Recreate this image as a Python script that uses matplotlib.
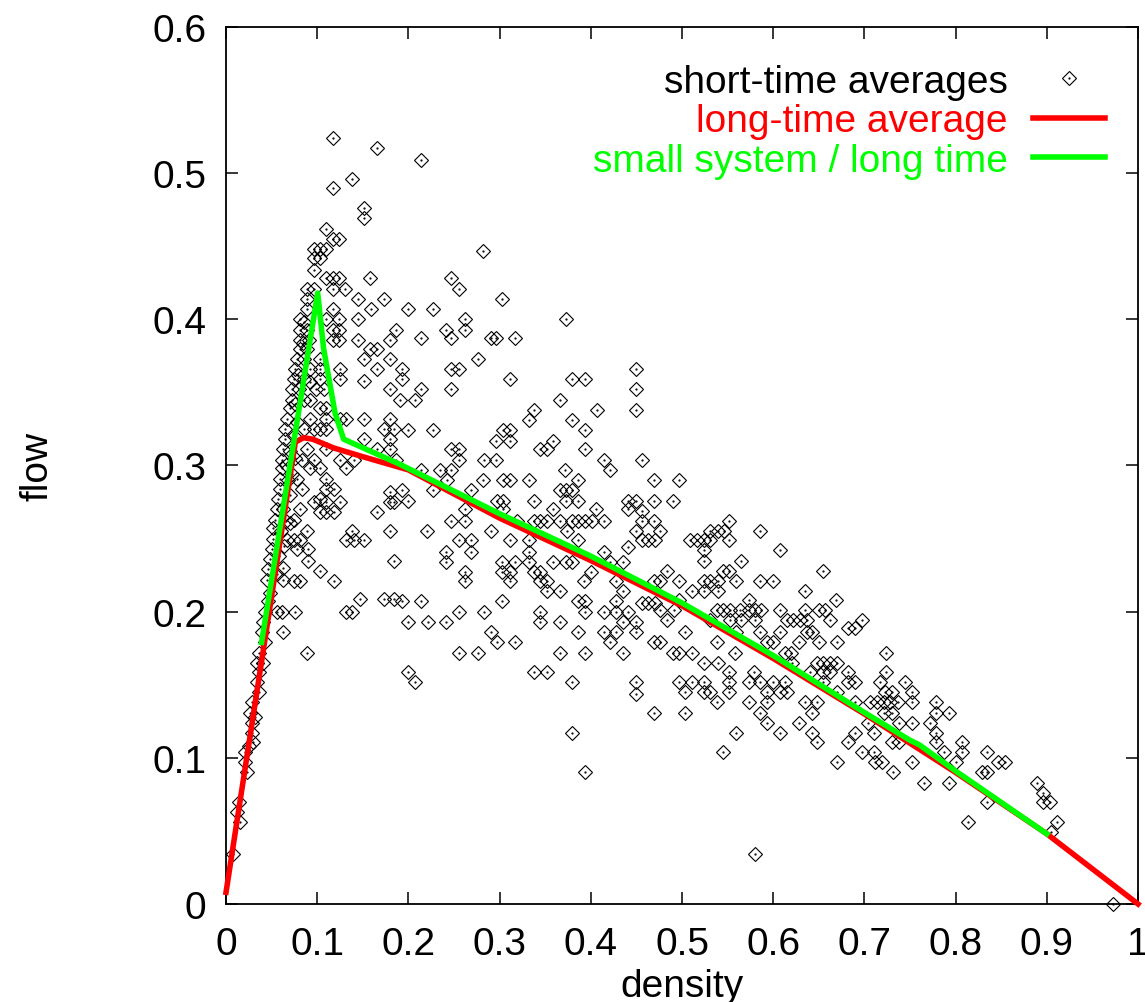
import matplotlib
matplotlib.use("Agg")
import matplotlib.pyplot as plt
from matplotlib.lines import Line2D
from matplotlib.legend_handler import HandlerTuple

plt.rcParams["font.family"] = ["Liberation Sans", "DejaVu Sans"]

# short-time averages (density, flow)
short_density = [
    0.117, 0.165, 0.138, 0.117, 0.151, 0.151, 0.110, 0.117, 0.124, 0.214,
    0.096, 0.103, 0.110, 0.096, 0.103, 0.096, 0.110, 0.117, 0.124, 0.158,
    0.089, 0.096, 0.117, 0.131, 0.089, 0.145, 0.173, 0.089, 0.117, 0.159,
    0.081, 0.110, 0.124, 0.145, 0.186, 0.081, 0.089, 0.117, 0.124,
    0.081, 0.091, 0.117, 0.124, 0.145, 0.180, 0.158, 0.165, 0.081, 0.089,
    # rising edge
    0.078, 0.076, 0.074, 0.072, 0.072, 0.070, 0.067, 0.065, 0.065, 0.063, 0.061, 0.061,
    0.059, 0.059, 0.057, 0.056, 0.054, 0.052, 0.052, 0.050, 0.048, 0.046, 0.045,
    0.066, 0.068, 0.070, 0.063, 0.066, 0.060, 0.064, 0.058, 0.062, 0.056,
    0.070, 0.074, 0.078, 0.076, 0.080, 0.079, 0.084, 0.086, 0.076, 0.072,
    0.085, 0.092, 0.085, 0.092, 0.103, 0.103, 0.103, 0.099, 0.107, 0.092, 0.085,
    0.103, 0.110, 0.110, 0.092, 0.085, 0.096, 0.103, 0.110, 0.125, 0.125,
    0.151, 0.165, 0.180, 0.151, 0.180, 0.191, 0.125, 0.132, 0.151, 0.180,
    0.173, 0.184, 0.180, 0.151, 0.165, 0.180, 0.089, 0.083, 0.096, 0.110,
    0.125, 0.132, 0.140, 0.103, 0.092, 0.078, 0.083, 0.110, 0.110, 0.118,
    0.103, 0.096, 0.110, 0.125, 0.103, 0.110, 0.118, 0.081, 0.074, 0.070,
    0.165, 0.180, 0.180, 0.184, 0.089, 0.138, 0.132, 0.140, 0.151, 0.180,
    0.067, 0.074, 0.081, 0.078, 0.090, 0.090, 0.103, 0.118, 0.074, 0.081,
    0.063, 0.184, 0.147, 0.173, 0.184,
    0.048, 0.046, 0.043, 0.041, 0.039, 0.043, 0.036, 0.034, 0.036, 0.034, 0.028,
    0.026, 0.028, 0.028, 0.030, 0.021, 0.021, 0.023, 0.014, 0.012, 0.015, 0.008,
    0.056, 0.061, 0.076, 0.063, 0.089, 0.132, 0.138, 0.040, 0.036, 0.032, 0.025,
    # 0.18 - 0.45
    0.282, 0.247, 0.255, 0.303, 0.200, 0.227, 0.262, 0.373, 0.241, 0.262,
    0.214, 0.247, 0.290, 0.296, 0.317, 0.276, 0.193, 0.193, 0.247, 0.255,
    0.311, 0.379, 0.394, 0.449, 0.449, 0.449, 0.214, 0.247, 0.207, 0.366,
    0.338, 0.407, 0.332, 0.379, 0.200, 0.227, 0.304, 0.311, 0.394, 0.296,
    0.311, 0.359, 0.247, 0.255, 0.344, 0.352, 0.394, 0.255, 0.283, 0.296,
    0.414, 0.421, 0.372, 0.186, 0.214, 0.235, 0.247, 0.242, 0.282, 0.304,
    0.311, 0.332, 0.386, 0.227, 0.269, 0.193, 0.200, 0.297, 0.304, 0.338,
    0.366, 0.373, 0.379, 0.373, 0.386, 0.441, 0.449, 0.441, 0.262, 0.304,
    0.359, 0.406, 0.247, 0.262, 0.290, 0.220, 0.319, 0.338, 0.344, 0.352,
    0.366, 0.379, 0.386, 0.394, 0.401, 0.414, 0.374, 0.449, 0.255, 0.269,
    0.311, 0.332, 0.386, 0.441,
    0.241, 0.269, 0.332, 0.414, 0.241, 0.303, 0.317, 0.332, 0.359,
    0.373, 0.379, 0.421, 0.435, 0.262, 0.303, 0.311, 0.338, 0.344, 0.400,
    0.262, 0.311, 0.344, 0.352, 0.393, 0.428, 0.352, 0.366, 0.435, 0.193,
    0.214, 0.303, 0.386, 0.394, 0.428, 0.255, 0.283, 0.344, 0.394, 0.414,
    0.428, 0.441, 0.200, 0.221, 0.241, 0.344, 0.366, 0.435, 0.449, 0.290,
    0.386, 0.414, 0.428, 0.449, 0.297, 0.317, 0.421, 0.255, 0.276, 0.366,
    0.394, 0.435, 0.200, 0.207, 0.338, 0.352, 0.379, 0.449, 0.449, 0.379,
    0.394,
    # 0.45 - 0.70
    0.456, 0.469, 0.497, 0.469, 0.490, 0.456, 0.456, 0.469, 0.476, 0.456,
    0.463, 0.470, 0.552, 0.531, 0.539, 0.546, 0.586, 0.509, 0.516, 0.524,
    0.531, 0.552, 0.524, 0.607, 0.524, 0.565, 0.483, 0.545, 0.552, 0.655,
    0.469, 0.476, 0.497, 0.524, 0.531, 0.539, 0.559, 0.586, 0.600, 0.511,
    0.524, 0.539, 0.635, 0.456, 0.463, 0.470, 0.497, 0.573, 0.669, 0.476,
    0.491, 0.538, 0.545, 0.553, 0.564, 0.573, 0.580, 0.587, 0.607, 0.635,
    0.650, 0.657, 0.483, 0.531, 0.553, 0.565, 0.580, 0.615, 0.622, 0.629,
    0.637, 0.662, 0.697, 0.682, 0.690,
    0.503, 0.559, 0.586, 0.607, 0.637, 0.643, 0.650, 0.670, 0.469, 0.476,
    0.538, 0.593, 0.600, 0.628, 0.558, 0.613, 0.620, 0.490, 0.497, 0.511,
    0.524, 0.539, 0.621, 0.648, 0.655, 0.662, 0.670, 0.552, 0.579, 0.682,
    0.640, 0.655, 0.662, 0.552, 0.497, 0.511, 0.524, 0.573, 0.586, 0.600,
    0.613, 0.655, 0.682, 0.690, 0.552, 0.503, 0.524, 0.531, 0.593, 0.607,
    0.615, 0.670, 0.538, 0.573, 0.593, 0.635, 0.648, 0.690, 0.469, 0.503,
    0.586, 0.642, 0.628, 0.593, 0.704, 0.559, 0.607, 0.642, 0.690, 0.648,
    0.682, 0.545, 0.697, 0.670, 0.580,
    # 0.70 - 1.0
    0.724, 0.724, 0.717, 0.745, 0.730, 0.752, 0.723, 0.706, 0.714, 0.721,
    0.728, 0.737, 0.752, 0.779, 0.721, 0.730, 0.779, 0.793, 0.738, 0.752,
    0.772, 0.710, 0.779, 0.730, 0.738, 0.779, 0.807, 0.787, 0.807, 0.834,
    0.710, 0.712, 0.719, 0.752, 0.800, 0.847, 0.854, 0.731, 0.829, 0.834,
    0.765, 0.793, 0.889, 0.896, 0.896, 0.904, 0.834, 0.911, 0.814, 0.905,
    0.973,
]
short_flow = [
    0.524, 0.517, 0.496, 0.490, 0.476, 0.469, 0.462, 0.455, 0.455, 0.509,
    0.448, 0.448, 0.448, 0.442, 0.442, 0.434, 0.428, 0.428, 0.428, 0.428,
    0.421, 0.421, 0.421, 0.421, 0.414, 0.414, 0.414, 0.407, 0.407, 0.407,
    0.400, 0.400, 0.400, 0.400, 0.393, 0.393, 0.393, 0.393, 0.393,
    0.386, 0.386, 0.386, 0.386, 0.386, 0.386, 0.380, 0.380, 0.380, 0.380,
    # rising edge
    0.373, 0.366, 0.359, 0.352, 0.345, 0.339, 0.332, 0.325, 0.318, 0.311, 0.304, 0.298,
    0.291, 0.284, 0.277, 0.270, 0.263, 0.257, 0.250, 0.243, 0.236, 0.229, 0.222,
    0.300, 0.290, 0.280, 0.270, 0.262, 0.255, 0.245, 0.238, 0.230, 0.226,
    0.310, 0.320, 0.330, 0.342, 0.352, 0.362, 0.384, 0.398, 0.305, 0.294,
    0.373, 0.366, 0.359, 0.357, 0.373, 0.366, 0.359, 0.352, 0.352, 0.345, 0.345,
    0.339, 0.339, 0.332, 0.332, 0.325, 0.325, 0.325, 0.325, 0.366, 0.359,
    0.373, 0.366, 0.373, 0.358, 0.352, 0.345, 0.332, 0.332, 0.332, 0.332,
    0.325, 0.325, 0.318, 0.318, 0.311, 0.311, 0.311, 0.304, 0.304, 0.311,
    0.304, 0.298, 0.304, 0.298, 0.298, 0.291, 0.284, 0.291, 0.284, 0.284,
    0.277, 0.275, 0.275, 0.275, 0.268, 0.268, 0.268, 0.270, 0.263, 0.261,
    0.268, 0.282, 0.275, 0.275, 0.255, 0.255, 0.249, 0.249, 0.249, 0.255,
    0.249, 0.249, 0.249, 0.243, 0.243, 0.235, 0.228, 0.221, 0.221, 0.221,
    0.222, 0.235, 0.209, 0.209, 0.209,
    0.213, 0.207, 0.200, 0.193, 0.186, 0.179, 0.172, 0.165, 0.159, 0.152, 0.138,
    0.131, 0.124, 0.117, 0.111, 0.104, 0.097, 0.090, 0.070, 0.063, 0.056, 0.034,
    0.200, 0.200, 0.200, 0.186, 0.172, 0.200, 0.200, 0.165, 0.145, 0.128, 0.108,
    # 0.18 - 0.45
    0.447, 0.428, 0.421, 0.414, 0.407, 0.407, 0.400, 0.400, 0.393, 0.393,
    0.387, 0.387, 0.387, 0.387, 0.387, 0.373, 0.366, 0.359, 0.366, 0.366,
    0.359, 0.359, 0.359, 0.366, 0.352, 0.338, 0.352, 0.352, 0.345, 0.345,
    0.338, 0.338, 0.331, 0.331, 0.324, 0.324, 0.324, 0.324, 0.324, 0.317,
    0.317, 0.317, 0.311, 0.311, 0.311, 0.311, 0.311, 0.304, 0.304, 0.304,
    0.304, 0.297, 0.297, 0.304, 0.297, 0.297, 0.297, 0.290, 0.290, 0.290,
    0.290, 0.290, 0.290, 0.283, 0.283, 0.283, 0.276, 0.276, 0.276, 0.276,
    0.283, 0.283, 0.283, 0.276, 0.276, 0.276, 0.276, 0.270, 0.270, 0.270,
    0.270, 0.270, 0.262, 0.262, 0.255, 0.255, 0.262, 0.262, 0.262, 0.262,
    0.262, 0.262, 0.262, 0.262, 0.262, 0.262, 0.255, 0.255, 0.249, 0.249,
    0.249, 0.249, 0.249, 0.244,
    0.241, 0.241, 0.241, 0.241, 0.234, 0.234, 0.234, 0.234, 0.234,
    0.234, 0.234, 0.234, 0.234, 0.227, 0.227, 0.227, 0.227, 0.227, 0.227,
    0.221, 0.221, 0.221, 0.221, 0.221, 0.221, 0.214, 0.214, 0.214, 0.207,
    0.207, 0.207, 0.207, 0.207, 0.207, 0.200, 0.200, 0.200, 0.200, 0.200,
    0.200, 0.200, 0.193, 0.193, 0.193, 0.193, 0.193, 0.193, 0.193, 0.186,
    0.186, 0.186, 0.186, 0.186, 0.179, 0.179, 0.179, 0.172, 0.172, 0.172,
    0.172, 0.172, 0.159, 0.152, 0.159, 0.159, 0.152, 0.152, 0.144, 0.117,
    0.090,
    # 0.45 - 0.70
    0.304, 0.290, 0.290, 0.276, 0.276, 0.269, 0.262, 0.262, 0.255, 0.249,
    0.249, 0.249, 0.262, 0.255, 0.255, 0.255, 0.255, 0.249, 0.249, 0.249,
    0.249, 0.249, 0.242, 0.242, 0.235, 0.235, 0.228, 0.228, 0.228, 0.228,
    0.221, 0.221, 0.221, 0.221, 0.221, 0.221, 0.221, 0.221, 0.221, 0.214,
    0.214, 0.214, 0.214, 0.206, 0.206, 0.206, 0.208, 0.208, 0.208, 0.201,
    0.201, 0.201, 0.201, 0.201, 0.201, 0.201, 0.201, 0.201, 0.201, 0.201,
    0.201, 0.201, 0.194, 0.194, 0.194, 0.194, 0.194, 0.194, 0.194, 0.194,
    0.194, 0.194, 0.194, 0.189, 0.189,
    0.186, 0.186, 0.186, 0.186, 0.186, 0.186, 0.179, 0.179, 0.179, 0.179,
    0.179, 0.179, 0.179, 0.179, 0.172, 0.172, 0.172, 0.172, 0.172, 0.172,
    0.165, 0.165, 0.165, 0.165, 0.165, 0.165, 0.165, 0.159, 0.159, 0.159,
    0.159, 0.159, 0.159, 0.152, 0.152, 0.152, 0.152, 0.152, 0.152, 0.152,
    0.152, 0.152, 0.152, 0.152, 0.145, 0.145, 0.145, 0.145, 0.145, 0.145,
    0.145, 0.145, 0.138, 0.138, 0.138, 0.138, 0.138, 0.138, 0.131, 0.131,
    0.131, 0.131, 0.124, 0.124, 0.124, 0.117, 0.117, 0.117, 0.117, 0.111,
    0.111, 0.104, 0.104, 0.097, 0.034,
    # 0.70 - 1.0
    0.172, 0.159, 0.152, 0.152, 0.145, 0.145, 0.145, 0.138, 0.138, 0.138,
    0.138, 0.138, 0.138, 0.138, 0.131, 0.131, 0.131, 0.131, 0.124, 0.124,
    0.124, 0.117, 0.117, 0.111, 0.111, 0.111, 0.111, 0.104, 0.104, 0.104,
    0.104, 0.097, 0.097, 0.097, 0.097, 0.097, 0.097, 0.090, 0.090, 0.090,
    0.083, 0.083, 0.083, 0.076, 0.070, 0.070, 0.070, 0.056, 0.056, 0.049,
    0.000,
]

# long-time average
long_density = [0.000, 0.076, 0.085, 0.095, 0.118, 0.150, 0.200, 0.300,
                0.400, 0.500, 0.600, 0.700, 0.800, 0.900, 1.000]
long_flow = [0.008, 0.316, 0.319, 0.318, 0.312, 0.306, 0.297, 0.264,
             0.235, 0.204, 0.168, 0.130, 0.090, 0.048, 0.000]

# small system / long time
small_density = [0.039, 0.1005, 0.107, 0.1195, 0.129, 0.190, 0.300, 0.400,
                 0.500, 0.600, 0.700, 0.750, 0.760, 0.800, 0.900]
small_flow = [0.179, 0.418, 0.380, 0.336, 0.318, 0.301, 0.267, 0.238,
              0.206, 0.170, 0.131, 0.112, 0.109, 0.091, 0.048]

RED = "#ff0000"
GREEN = "#00ff00"
FS = 28

fig = plt.figure(figsize=(11.45, 10.03), dpi=100)
ax = fig.add_axes([0.1974, 0.0977, 0.7965, 0.8744])

ax.plot(short_density, short_flow, ls="none", marker="D", ms=6.8,
        mfc="none", mec="black", mew=0.8, clip_on=False, zorder=2)
ax.plot(short_density, short_flow, ls="none", marker=".", ms=1.2,
        color="black", clip_on=False, zorder=2)
ax.plot(long_density, long_flow, color=RED, lw=4, clip_on=False, zorder=3)
ax.plot(small_density, small_flow, color=GREEN, lw=4, clip_on=False, zorder=4)

ax.set_xlim(0, 1)
ax.set_ylim(0, 0.6)
xt = [i / 10 for i in range(11)]
ax.set_xticks(xt)
ax.set_xticklabels(["0"] + [f"{v:.1f}" for v in xt[1:-1]] + ["1"])
yt = [i / 10 for i in range(7)]
ax.set_yticks(yt)
ax.set_yticklabels(["0"] + [f"{v:.1f}" for v in yt[1:]])
ax.tick_params(direction="in", length=8.5, width=1.1, top=True, right=True,
               labelsize=FS)
ax.tick_params(axis="x", pad=16)
ax.tick_params(axis="y", pad=14)
for s in ax.spines.values():
    s.set_linewidth(1.3)

ax.set_xlabel("density", fontsize=FS, labelpad=4)
ax.set_ylabel("flow", fontsize=FS, labelpad=70)

h_pts = (Line2D([], [], ls="none", marker="D", ms=6.8, mfc="none", mec="black", mew=0.8),
         Line2D([], [], ls="none", marker=".", ms=1.2, color="black"))
h_red = Line2D([], [], color=RED, lw=4)
h_green = Line2D([], [], color=GREEN, lw=4)
leg = ax.legend([h_pts, h_red, h_green],
                ["short-time averages", "long-time average", "small system / long time"],
                loc="upper right", bbox_to_anchor=(0.964, 0.958), frameon=False,
                markerfirst=False, fontsize=FS, handlelength=1.85, handletextpad=0.65,
                labelspacing=0.09, borderpad=0, borderaxespad=0,
                handler_map={tuple: HandlerTuple(ndivide=1)})
for t, c in zip(leg.get_texts(), ["black", RED, GREEN]):
    t.set_color(c)

fig.savefig("out.png", dpi=100)
